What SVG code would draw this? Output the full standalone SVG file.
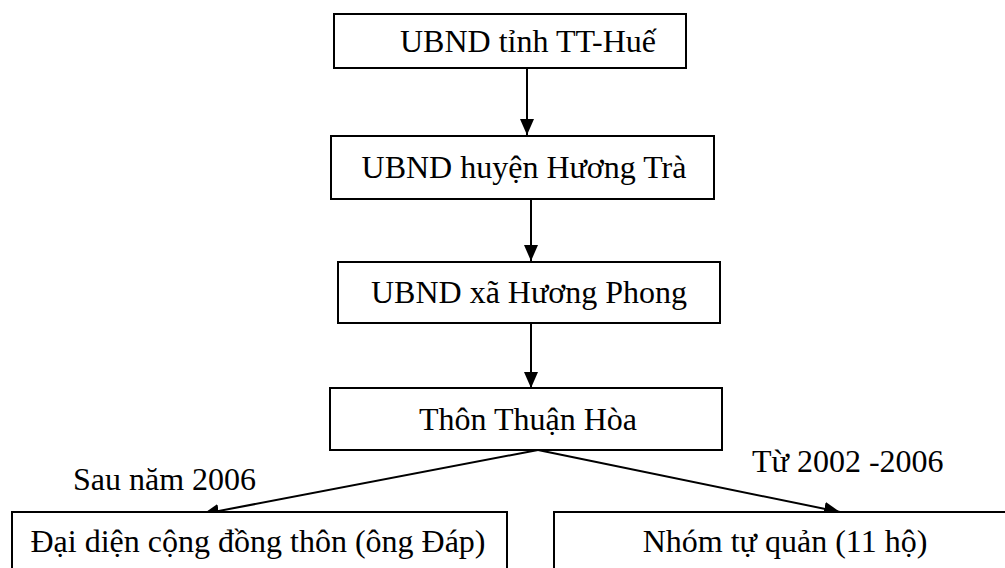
<svg xmlns="http://www.w3.org/2000/svg" width="1005" height="568" viewBox="0 0 1005 568">
  <style>
    .box { fill: #ffffff; stroke: #000000; stroke-width: 2; }
    .txt { font-family: "Liberation Serif", "Times New Roman", serif; font-size: 32px; fill: #000000; }
    .mid { text-anchor: middle; }
    .conn { stroke: #000000; stroke-width: 2; fill: none; marker-end: url(#arr); }
  </style>
  <defs>
    <marker id="arr" markerUnits="userSpaceOnUse" markerWidth="16" markerHeight="14" refX="16" refY="7" orient="auto">
      <path d="M0,0 L16,7 L0,14 Z" fill="#000000"/>
    </marker>
  </defs>
  <rect x="0" y="0" width="1005" height="568" fill="#ffffff"/>

  <g id="connectors">
    <line class="conn" x1="527" y1="68" x2="527" y2="135"/>
    <line class="conn" x1="531" y1="199" x2="531" y2="261"/>
    <line class="conn" x1="531" y1="323" x2="531" y2="388"/>
    <line class="conn" x1="538" y1="450" x2="203" y2="514"/>
    <line class="conn" x1="538" y1="450" x2="840" y2="512"/>
  </g>

  <g id="node-tinh">
    <rect class="box" x="334" y="14" width="352" height="54"/>
    <text class="txt" x="400" y="52">UBND tỉnh TT-Huế</text>
  </g>
  <g id="node-huyen">
    <rect class="box" x="331" y="136" width="383" height="63"/>
    <text class="txt mid" x="524" y="178">UBND huyện Hương Trà</text>
  </g>
  <g id="node-xa">
    <rect class="box" x="338" y="262" width="382" height="61"/>
    <text class="txt mid" x="529" y="303">UBND xã Hương Phong</text>
  </g>
  <g id="node-thon">
    <rect class="box" x="330" y="388" width="392" height="62"/>
    <text class="txt mid" x="528" y="430">Thôn Thuận Hòa</text>
  </g>
  <g id="node-daidien">
    <rect class="box" x="12" y="512" width="495" height="70"/>
    <text class="txt mid" x="258" y="552">Đại diện cộng đồng thôn (ông Đáp)</text>
  </g>
  <g id="node-nhom">
    <rect class="box" x="554" y="512" width="470" height="70"/>
    <text class="txt mid" x="785" y="552">Nhóm tự quản (11 hộ)</text>
  </g>

  <g id="labels">
    <text class="txt" x="73" y="490">Sau năm 2006</text>
    <text class="txt" x="752" y="472">Từ 2002 -2006</text>
  </g>
</svg>
